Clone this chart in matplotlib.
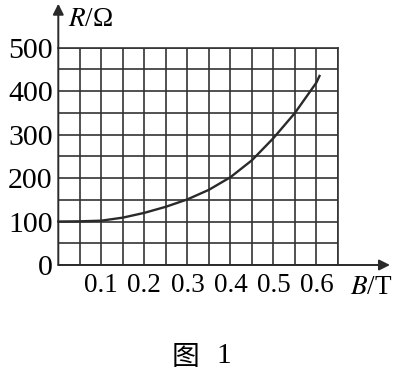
import matplotlib
matplotlib.use("Agg")
import matplotlib.pyplot as plt
import numpy as np

# data
B_vals = [0, 0.05, 0.1, 0.15, 0.2, 0.25, 0.3, 0.35, 0.4, 0.45, 0.5, 0.55, 0.6, 0.607]
R_vals = [100, 100.5, 102, 109, 120, 134, 151, 173, 202, 241, 292, 350, 420, 435]
x_ticks = [0.1, 0.2, 0.3, 0.4, 0.5, 0.6]
x_tick_labels = ["0.1", "0.2", "0.3", "0.4", "0.5", "0.6"]
y_ticks = [0, 100, 200, 300, 400, 500]
y_tick_labels = ["0", "100", "200", "300", "400", "500"]

W, H = 400, 372
fig = plt.figure(figsize=(W / 100, H / 100), dpi=100)
left, right = 58.3 / W, 338 / W
bottom, top = (H - 265) / H, (H - 47.7) / H
ax = fig.add_axes([left, bottom, right - left, top - bottom])
ax.set_xlim(0, 0.65)
ax.set_ylim(0, 500)

gc = "#333333"
ax.set_xticks(np.arange(0, 0.651, 0.05), minor=True)
ax.set_yticks(np.arange(0, 501, 50), minor=True)
ax.grid(which="both", color=gc, linewidth=1.2)
ax.set_axisbelow(True)
for s in ["left", "bottom"]:
    ax.spines[s].set_visible(False)
for s in ["top", "right"]:
    ax.spines[s].set_color(gc)
    ax.spines[s].set_linewidth(1.2)

ax.set_xticks(x_ticks)
ax.set_xticklabels(x_tick_labels, family="Liberation Serif", fontsize=19.5)
ax.set_yticks(y_ticks)
ax.set_yticklabels(y_tick_labels, family="Liberation Serif", fontsize=21.5)
ax.tick_params(which="both", length=0)
ax.tick_params(axis="x", pad=6)
ax.tick_params(axis="y", pad=4)

ax.plot(B_vals, R_vals, color="#2a2a2a", linewidth=1.7, clip_on=False, zorder=5,
        solid_joinstyle="round")

# axis arrows
ax.annotate("", xy=(0, 1.0 + 44 / 217.3), xytext=(0, 0), xycoords="axes fraction",
            arrowprops=dict(arrowstyle="-|>", color="#2a2a2a", lw=1.4,
                            mutation_scale=16, shrinkA=0, shrinkB=0), annotation_clip=False)
ax.annotate("", xy=(1.0 + 52 / 279.7, 0), xytext=(0, 0), xycoords="axes fraction",
            arrowprops=dict(arrowstyle="-|>", color="#2a2a2a", lw=1.4,
                            mutation_scale=16, shrinkA=0, shrinkB=0), annotation_clip=False)

fig.text(68 / W, 1 - 19 / H, r"$\mathit{R}$/Ω", family="Liberation Serif", fontsize=19.5,
         ha="left", va="center", math_fontfamily="stix")
fig.text(350 / W, 1 - 287 / H, r"$\mathit{B}$/T", family="Liberation Serif", fontsize=19.5,
         ha="left", va="center", math_fontfamily="stix")
fig.text(185 / W, 1 - 357 / H, "图", family=["Noto Sans CJK SC"],
         fontsize=20, ha="center", va="center")
fig.text(224 / W, 1 - 356 / H, "1", family="Liberation Serif",
         fontsize=21, ha="center", va="center")

fig.savefig("out.png", dpi=100)
